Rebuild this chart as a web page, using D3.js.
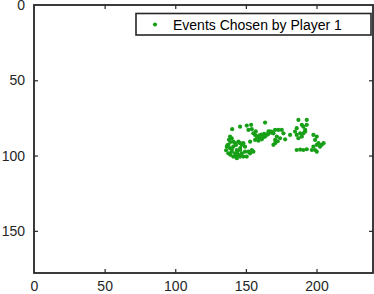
<!DOCTYPE html>
<html>
<head>
<meta charset="utf-8">
<script src="https://cdn.jsdelivr.net/npm/d3@7"></script>
<style>
  html, body { margin: 0; padding: 0; background: #fff; }
  svg { display: block; font-family: "Liberation Sans", Arial, Helvetica, sans-serif; }
</style>
</head>
<body>
<svg id="chart" width="374" height="294"></svg>
<script>
// ---- data ----
const seriesName = "Events Chosen by Player 1";
const xTicks = [0, 50, 100, 150, 200];
const yTicks = [0, 50, 100, 150];
const xDomain = [0, 240];
const yDomain = [0, 178];
const pointsX = [
  138.8,140.0,141.1,137.6,136.5,138.8,141.1,142.4,144.7,145.9,147.1,148.2,149.4,143.6,145.9,140.0,142.4,144.7,147.1,149.4,
  137.6,141.1,143.6,145.9,148.2,150.6,151.8,154.2,153.0,137.0,139.0,143.0,146.0,140.0,144.0,136.0,139.0,143.0,138.0,140.3,
  145.9,153.0,155.3,
  150.6,153.7,151.8,154.2,155.3,156.5,157.7,156.5,158.9,161.3,163.6,165.9,168.3,167.1,169.5,158.9,162.4,164.8,163.6,160.0,
  159.5,161.0,163.0,166.0,157.0,170.7,171.9,174.2,173.0,175.4,169.5,168.3,170.7,176.6,172.5,170.7,177.8,181.3,
  187.2,189.6,190.7,193.1,192.0,186.0,184.8,186.0,188.4,190.7,187.2,189.6,192.0,193.1,197.8,200.2,199.0,201.4,203.7,200.2,
  197.8,199.0,200.2,196.7,190.7,186.0,205.0,188.5,193.1,202.5
];
const pointsY = [
  87.4,88.5,90.8,92.9,94.1,95.1,94.1,91.8,90.8,91.8,92.9,91.8,94.1,96.3,96.3,97.4,98.5,99.6,98.5,97.4,
  98.5,100.7,101.8,100.7,100.7,100.7,97.4,96.3,98.5,93.0,91.0,93.0,95.0,96.0,97.5,96.5,99.5,100.0,89.5,82.5,
  80.8,90.8,97.4,
  80.1,79.6,83.0,82.5,85.2,86.3,87.4,89.6,90.1,89.2,87.4,85.6,84.8,84.1,85.2,88.5,87.8,86.3,78.1,88.0,
  86.5,86.0,85.5,84.0,84.0,89.6,87.4,88.5,83.0,83.0,92.9,84.1,83.0,85.2,90.5,91.8,89.2,86.3,
  76.3,79.6,80.8,79.6,83.0,81.8,84.1,86.3,85.2,85.2,88.5,87.4,84.1,76.3,86.3,87.4,89.6,91.8,92.9,92.9,
  94.1,96.3,97.4,96.3,96.3,96.3,91.8,96.0,95.8,94.1
];

// ---- layout ----
const L = 34, R = 373, T = 5, B = 273;
const axisColor = "#262626";
const dotColor = "#17a017";

const svg = d3.select("#chart");
const x = d3.scaleLinear().domain(xDomain).range([L, R]);
const y = d3.scaleLinear().domain(yDomain).range([T, B]);

// points
const pts = pointsX.map((v, i) => ({x: v, y: pointsY[i]}));
svg.append("g").selectAll("circle").data(pts).join("circle")
  .attr("cx", d => x(d.x)).attr("cy", d => y(d.y)).attr("r", 2.1)
  .attr("fill", dotColor);

// axes
const tickLen = 4;
const fontSize = 14;
const gx = svg.append("g").attr("transform", `translate(0,${B})`)
  .call(d3.axisBottom(x).tickValues(xTicks).tickSizeInner(-tickLen).tickSizeOuter(0).tickPadding(8));
const gxTop = svg.append("g").attr("transform", `translate(0,${T})`)
  .call(d3.axisTop(x).tickValues(xTicks).tickSizeInner(-tickLen).tickSizeOuter(0).tickFormat(""));
const gy = svg.append("g").attr("transform", `translate(${L},0)`)
  .call(d3.axisLeft(y).tickValues(yTicks).tickSizeInner(-tickLen).tickSizeOuter(0).tickPadding(9));
const gyR = svg.append("g").attr("transform", `translate(${R},0)`)
  .call(d3.axisRight(y).tickValues(yTicks).tickSizeInner(-tickLen).tickSizeOuter(0).tickFormat(""));

[gx, gxTop, gy, gyR].forEach(g => {
  g.select(".domain").remove();
  g.selectAll(".tick line").attr("stroke", axisColor).attr("stroke-width", 1.2);
  g.selectAll(".tick text").attr("fill", axisColor).style("font-size", fontSize + "px")
    .style("font-family", '"Liberation Sans", Arial, sans-serif');
});
// hide ticks at the box edges
gx.selectAll(".tick").filter(d => d === xDomain[0]).select("line").remove();
gxTop.selectAll(".tick").filter(d => d === xDomain[0]).select("line").remove();
gy.selectAll(".tick").filter(d => d === yDomain[0]).select("line").remove();
gyR.selectAll(".tick").filter(d => d === yDomain[0]).select("line").remove();

// box
svg.append("rect").attr("x", L).attr("y", T).attr("width", R - L).attr("height", B - T)
  .attr("fill", "none").attr("stroke", axisColor).attr("stroke-width", 1.8);

// legend
const lg = svg.append("g");
lg.append("rect").attr("x", 136).attr("y", 13.5).attr("width", 235).attr("height", 21.5)
  .attr("fill", "#fff").attr("stroke", axisColor).attr("stroke-width", 1.6);
lg.append("circle").attr("cx", 155).attr("cy", 24.5).attr("r", 2.1).attr("fill", dotColor);
lg.append("text").attr("x", 173).attr("y", 29.5).attr("fill", "#000")
  .style("font-size", "14px").style("font-family", '"Liberation Sans", Arial, sans-serif')
  .text(seriesName);
</script>
</body>
</html>
